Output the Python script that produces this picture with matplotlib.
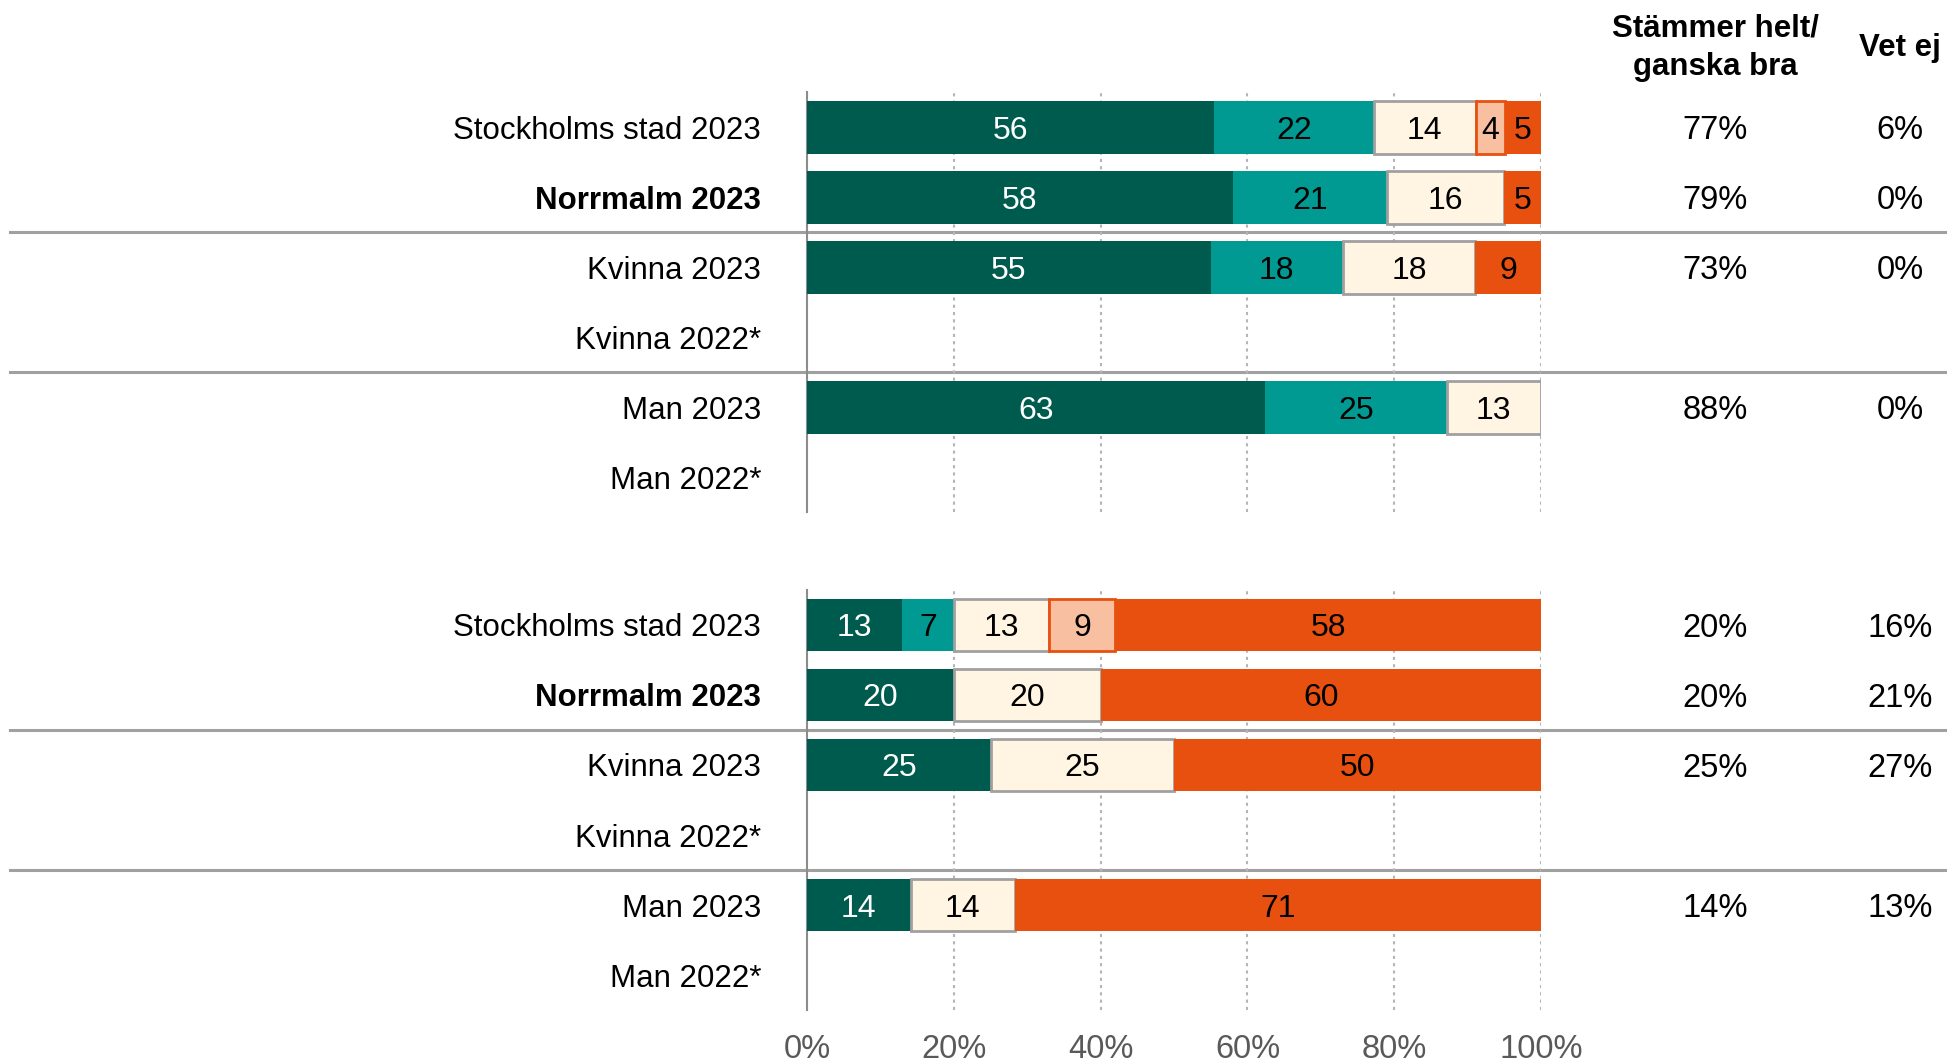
import matplotlib
matplotlib.use("Agg")
import matplotlib.pyplot as plt
import matplotlib.transforms as mtransforms
from matplotlib import font_manager
import numpy as np

# Data
row_labels = ["Stockholms stad 2023", "Norrmalm 2023", "Kvinna 2023",
              "Kvinna 2022*", "Man 2023", "Man 2022*"]
bold_rows = ["Norrmalm 2023"]

# Segments: helt, ganska, varken, ganska dåligt, helt dåligt (None = no bar)
top_helt = [56, 58, 55, None, 63, None]
top_ganska = [22, 21, 18, None, 25, None]
top_varken = [14, 16, 18, None, 13, None]
top_daligt = [4, 0, 0, None, 0, None]
top_mycket = [5, 5, 9, None, 0, None]
top_bra = ["77%", "79%", "73%", "", "88%", ""]
top_vetej = ["6%", "0%", "0%", "", "0%", ""]

bot_helt = [13, 20, 25, None, 14, None]
bot_ganska = [7, 0, 0, None, 0, None]
bot_varken = [13, 20, 25, None, 14, None]
bot_daligt = [9, 0, 0, None, 0, None]
bot_mycket = [58, 60, 50, None, 71, None]
bot_bra = ["20%", "20%", "25%", "", "14%", ""]
bot_vetej = ["16%", "21%", "27%", "", "13%", ""]

xticks = [0, 20, 40, 60, 80, 100]
xtick_labels = ["0%", "20%", "40%", "60%", "80%", "100%"]

# Style
colors = ["#005B4F", "#009A93", "#FFF5E2", "#F8BFA0", "#E8500F"]
edges = [None, None, "#A0A0A0", "#E8500F", None]
text_colors = ["white", "black", "black", "black", "black"]

available = {f.name for f in font_manager.fontManager.ttflist}
narrow = "Liberation Sans Narrow" if "Liberation Sans Narrow" in available else "Liberation Sans"
plt.rcParams["font.family"] = ["Liberation Sans", "DejaVu Sans"]

fig = plt.figure(figsize=(19.47, 10.61), dpi=100)
ax_top = fig.add_axes([0.4145, 0.517, 0.377, 0.396])
ax_bot = fig.add_axes([0.4145, 0.048, 0.377, 0.396])

fs = 22.5
fs_val = 23


def draw_group(ax, series, bra, vetej, show_ticks):
    n = len(row_labels)
    ys = np.arange(n)
    for i in range(n):
        vals = [s[i] for s in series]
        if vals[0] is None:
            continue
        total = sum(vals)
        left = 0.0
        for k, v in enumerate(vals):
            if v == 0:
                continue
            w = v / total * 100
            ec = edges[k] if edges[k] else colors[k]
            lw = 2 if edges[k] else 0
            ax.barh(ys[i], w, left=left, height=0.75, color=colors[k],
                    edgecolor=ec, linewidth=lw, zorder=3)
            ax.text(left + w / 2, ys[i], f"{v}", ha="center", va="center_baseline",
                    fontsize=fs_val, color=text_colors[k], family=narrow, zorder=4)
            left += w

    ax.set_xlim(0, 100)
    ax.set_ylim(n - 0.5, -0.5)
    ax.set_yticks(ys)
    ax.set_yticklabels(row_labels, fontsize=fs)
    for lbl in ax.get_yticklabels():
        if lbl.get_text() in bold_rows:
            lbl.set_fontweight("bold")
    ax.tick_params(axis="y", length=0, pad=33)
    ax.set_xticks(xticks)
    if show_ticks:
        ax.set_xticklabels(xtick_labels, fontsize=23.5, color="#595959", family=narrow)
        ax.tick_params(axis="x", length=0, pad=17)
    else:
        ax.tick_params(axis="x", length=0, labelbottom=False)
    ax.grid(axis="x", linestyle=(0, (1.5, 2)), color="#B5B5B5", linewidth=1.5, zorder=0)
    for side in ["top", "right", "bottom"]:
        ax.spines[side].set_visible(False)
    ax.spines["left"].set_color("#8C8C8C")
    ax.spines["left"].set_linewidth(1.5)

    # separators across the whole figure width
    trans = mtransforms.blended_transform_factory(fig.transFigure, ax.transData)
    for ysep in [1.5, 3.5]:
        ax.plot([0.005, 1.0], [ysep, ysep], transform=trans, clip_on=False,
                color="#A0A0A0", linewidth=2.2, zorder=1)

    # right columns
    for i in range(n):
        ax.text(0.881, ys[i], bra[i], transform=trans, ha="center",
                va="center_baseline", fontsize=23.5, color="black")
        ax.text(0.976, ys[i], vetej[i], transform=trans, ha="center",
                va="center_baseline", fontsize=23.5, color="black")


draw_group(ax_top, [top_helt, top_ganska, top_varken, top_daligt, top_mycket],
           top_bra, top_vetej, False)
draw_group(ax_bot, [bot_helt, bot_ganska, bot_varken, bot_daligt, bot_mycket],
           bot_bra, bot_vetej, True)

fig.text(0.881, 0.955, "Stämmer helt/\nganska bra", ha="center", va="center",
         fontsize=fs, fontweight="bold", linespacing=1.35)
fig.text(0.976, 0.955, "Vet ej", ha="center", va="center",
         fontsize=fs, fontweight="bold")

fig.savefig("out.png", dpi=100)
